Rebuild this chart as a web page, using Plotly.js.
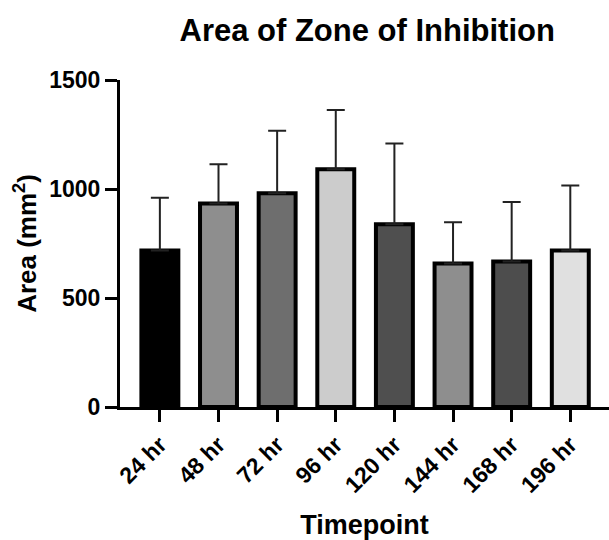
<!DOCTYPE html>
<html>
<head>
<meta charset="utf-8">
<script src="https://cdn.plot.ly/plotly-3.0.1.min.js"></script>
<style>html,body{margin:0;padding:0;background:#fff}#chart{width:609px;height:540px}</style>
</head>
<body>
<div id="chart"></div>
<script>
const categories = ["24 hr", "48 hr", "72 hr", "96 hr", "120 hr", "144 hr", "168 hr", "196 hr"];
const meanArea = [718, 934, 980, 1091, 838, 658, 667, 718];
const sdArea = [242, 180, 287, 271, 371, 189, 273, 298];
const barColors = ["#000000", "#8e8e8e", "#6e6e6e", "#cccccc", "#4f4f4f", "#8e8e8e", "#4d4d4d", "#e0e0e0"];
const yTicks = [0, 500, 1000, 1500];

const font = "Liberation Sans, Arial, sans-serif";

const trace = {
  type: "bar",
  x: categories,
  y: meanArea,
  marker: { color: barColors, line: { color: "#000", width: 4 } },
  error_y: {
    type: "data",
    symmetric: false,
    array: sdArea,
    arrayminus: sdArea.map(() => 0),
    color: "#222",
    thickness: 2,
    width: 9
  },
  hoverinfo: "none"
};

const layout = {
  width: 609,
  height: 540,
  margin: { l: 120, r: 0, t: 80, b: 133 },
  paper_bgcolor: "#fff",
  plot_bgcolor: "#fff",
  showlegend: false,
  bargap: 0.37,
  font: { family: font, color: "#000" },
  title: {
    text: "<b>Area of Zone of Inhibition</b>",
    font: { family: font, size: 31, color: "#000" },
    x: 0.603, xanchor: "center", y: 0.945, yanchor: "middle"
  },
  xaxis: {
    range: [-0.68, 7.66],
    showline: true, linecolor: "#000", linewidth: 3,
    ticks: "outside", ticklen: 12, tickwidth: 3, tickcolor: "#000",
    tickangle: -45,
    tickfont: { family: font, size: 23, color: "#000", weight: "bold" },
    showgrid: false, zeroline: false,
    title: { text: "<b>Timepoint</b>", font: { family: font, size: 27, color: "#000" }, standoff: 22 }
  },
  yaxis: {
    range: [0, 1500],
    tickvals: yTicks,
    ticktext: yTicks.map(String),
    showline: true, linecolor: "#000", linewidth: 3,
    ticks: "outside", ticklen: 12, tickwidth: 3, tickcolor: "#000",
    tickfont: { family: font, size: 23, color: "#000", weight: "bold" },
    showgrid: false, zeroline: false,
    title: { text: "<b>Area (mm<sup>2</sup>)</b>", font: { family: font, size: 26, color: "#000" }, standoff: 6 }
  }
};

Plotly.newPlot("chart", [trace], layout, { displayModeBar: false, staticPlot: true });
</script>
</body>
</html>
